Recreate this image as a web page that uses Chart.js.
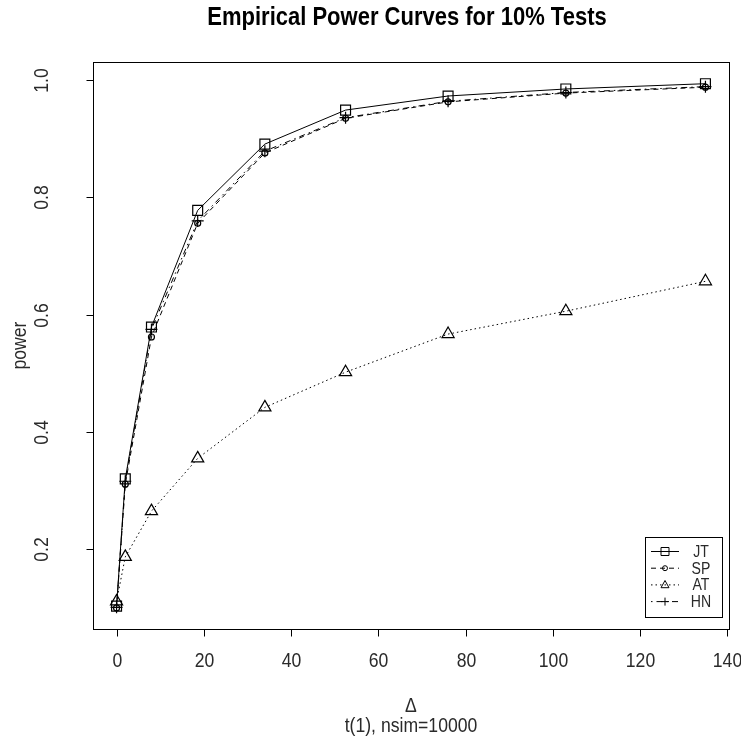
<!DOCTYPE html>
<html lang="en">
<head>
    <meta charset="UTF-8">
    <title>Empirical Power Curves</title>
    <style>
        body { margin: 0; background: #ffffff; }
        #powerChart { display: block; }
    </style>
    <script src="https://cdn.jsdelivr.net/npm/chart.js"></script>
</head>
<body>
    <canvas id="powerChart" width="741" height="742"></canvas>
    <script>
        // shift sizes and empirical power of each test
        var deltas = [0, 2, 8, 18.6, 34, 52.5, 76, 103, 135];
        var powerJT = [0.103, 0.320, 0.579, 0.778, 0.891, 0.949, 0.973, 0.985, 0.994];
        var powerSP = [0.100, 0.311, 0.562, 0.756, 0.876, 0.935, 0.963, 0.978, 0.988];
        var powerAT = [0.111, 0.187, 0.265, 0.355, 0.442, 0.502, 0.567, 0.606, 0.657];
        var powerHN = [0.101, 0.316, 0.575, 0.760, 0.879, 0.936, 0.964, 0.979, 0.989];

        var xTicks = [0, 20, 40, 60, 80, 100, 120, 140];
        var yTicks = [0.2, 0.4, 0.6, 0.8, 1.0];
        var yTickLabels = ["0.2", "0.4", "0.6", "0.8", "1.0"];

        var testNames = ["JT", "SP", "AT", "HN"];
        var font = "'Liberation Sans', Arial, sans-serif";

        function toPoints(ys) {
            return deltas.map((d, i) => ({x: d, y: ys[i]}));
        }

        function makeSet(label, ys, dash, style, radius) {
            return {
                label: label,
                data: toPoints(ys),
                borderColor: "#000000",
                borderWidth: 1,
                borderDash: dash,
                backgroundColor: "transparent",
                pointStyle: style,
                pointRadius: radius,
                pointBorderColor: "#000000",
                pointBorderWidth: 1.2,
                pointBackgroundColor: "transparent",
                tension: 0,
                fill: false
            };
        }

        // text a bit narrower than the font, like the old device fonts
        function label(ctx, str, x, y, size, weight, rot) {
            ctx.save();
            ctx.translate(x, y);
            if (rot) ctx.rotate(rot);
            ctx.scale(0.88, 1);
            ctx.font = (weight || "") + " " + size + "px " + font;
            ctx.textAlign = "center";
            ctx.textBaseline = "middle";
            ctx.fillText(str, 0, 0);
            ctx.restore();
        }

        // little R-style symbol for the legend
        function drawSymbol(ctx, style, x, y, r) {
            ctx.beginPath();
            if (style === "rect") {
                ctx.rect(x - r, y - r, 2 * r, 2 * r);
            } else if (style === "circle") {
                ctx.arc(x, y, r, 0, Math.PI * 2);
            } else if (style === "triangle") {
                ctx.moveTo(x, y - r * 1.1);
                ctx.lineTo(x + r, y + r * 0.7);
                ctx.lineTo(x - r, y + r * 0.7);
                ctx.closePath();
            } else if (style === "cross") {
                ctx.moveTo(x - r, y);
                ctx.lineTo(x + r, y);
                ctx.moveTo(x, y - r);
                ctx.lineTo(x, y + r);
            }
            ctx.stroke();
        }

        var frame = {
            id: "frame",
            afterDraw(chart) {
                var ctx = chart.ctx;
                var area = chart.chartArea;
                var xs = chart.scales.x;
                var ys = chart.scales.y;
                ctx.save();
                ctx.strokeStyle = "#000000";
                ctx.lineWidth = 1;
                ctx.setLineDash([]);

                // plot box
                ctx.strokeRect(Math.round(area.left) + 0.5, Math.round(area.top) + 0.5,
                    Math.round(area.right - area.left), Math.round(area.bottom - area.top));

                ctx.fillStyle = "#2a2a2a";

                // x axis
                var yb = Math.round(area.bottom) + 0.5;
                ctx.beginPath();
                ctx.moveTo(xs.getPixelForValue(xTicks[0]), yb);
                ctx.lineTo(xs.getPixelForValue(xTicks[xTicks.length - 1]), yb);
                xTicks.forEach(t => {
                    var px = Math.round(xs.getPixelForValue(t)) + 0.5;
                    ctx.moveTo(px, yb);
                    ctx.lineTo(px, yb + 7);
                    label(ctx, String(t), px, yb + 32, 20);
                });
                ctx.stroke();

                // y axis
                var xl = Math.round(area.left) + 0.5;
                ctx.beginPath();
                ctx.moveTo(xl, ys.getPixelForValue(yTicks[0]));
                ctx.lineTo(xl, ys.getPixelForValue(yTicks[yTicks.length - 1]));
                yTicks.forEach((t, i) => {
                    var py = Math.round(ys.getPixelForValue(t)) + 0.5;
                    ctx.moveTo(xl, py);
                    ctx.lineTo(xl - 7, py);
                    label(ctx, yTickLabels[i], xl - 51, py, 20, "", -Math.PI / 2);
                });
                ctx.stroke();

                // axis titles
                var cx = (area.left + area.right) / 2;
                label(ctx, "power", 20, (area.top + area.bottom) / 2, 20, "", -Math.PI / 2);
                label(ctx, "\u0394", cx, 706, 20);
                label(ctx, "t(1), nsim=10000", cx, 726, 20);

                // main title
                ctx.fillStyle = "#000000";
                label(ctx, "Empirical Power Curves for 10% Tests", cx - 4, 18, 25, "bold");

                // legend in the lower right corner
                var lx = 645, ly = 537, lw = 77, lh = 80;
                ctx.fillStyle = "#ffffff";
                ctx.fillRect(lx, ly, lw, lh);
                ctx.strokeRect(lx + 0.5, ly + 0.5, lw, lh);
                ctx.fillStyle = "#2a2a2a";
                chart.data.datasets.forEach((ds, i) => {
                    var ey = ly + 14.5 + i * 16.7;
                    ctx.beginPath();
                    ctx.setLineDash(ds.borderDash);
                    ctx.moveTo(lx + 6, ey);
                    ctx.lineTo(lx + 34, ey);
                    ctx.stroke();
                    ctx.setLineDash([]);
                    var r = ds.pointStyle === "circle" ? 2.5 : 4;
                    drawSymbol(ctx, ds.pointStyle, lx + 20, ey, r);
                    label(ctx, ds.label, lx + 56, ey + 1, 16);
                });
                ctx.restore();
            }
        };

        new Chart(document.getElementById("powerChart"), {
            type: "line",
            data: {
                datasets: [
                    makeSet(testNames[0], powerJT, [], "rect", 7),
                    makeSet(testNames[1], powerSP, [5, 4], "circle", 3),
                    makeSet(testNames[2], powerAT, [1.5, 3], "triangle", 7),
                    makeSet(testNames[3], powerHN, [1.5, 4, 6, 4], "cross", 6)
                ]
            },
            options: {
                responsive: false,
                animation: false,
                layout: {
                    padding: {left: 93, right: 12, top: 62, bottom: 113}
                },
                scales: {
                    x: {type: "linear", display: false, min: -5.4, max: 140.4},
                    y: {type: "linear", display: false, min: 0.064, max: 1.031}
                },
                plugins: {
                    legend: {display: false},
                    title: {display: false},
                    tooltip: {enabled: false}
                }
            },
            plugins: [frame]
        });
    </script>
</body>
</html>
